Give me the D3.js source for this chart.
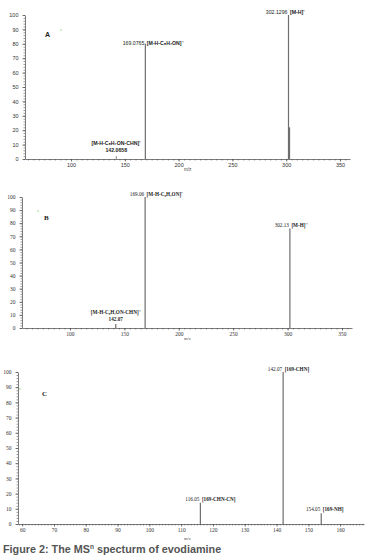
<!DOCTYPE html>
<html>
<head>
<meta charset="utf-8">
<script src="https://cdn.jsdelivr.net/npm/d3@7/dist/d3.min.js"></script>
<style>
  body { margin: 0; background: #fff; }
  svg { display: block; }
  .tick text { fill: #333; }
</style>
</head>
<body>
<div id="chart"></div>
<script>
// panel A: MS2 of [M-H]-
var mzA = [142.0658, 169.0765, 302.1296, 302.8]
var intA = [2, 80, 100, 22]
var numA = ['142.0658', '169.0765', '302.1296', '']
var ionA = ['[M-H-C₈H₇ON-CHN]⁻', '[M-H-C₈H₇ON]⁻', '[M-H]⁻', '']

// panel B: MS2 (second run)
var mzB = [142.07, 169.06, 302.13]
var intB = [3, 100, 76]
var numB = ['142.07', '169.06', '302.13']
var ionB = ['[M-H-C₈H₇ON-CHN]⁻', '[M-H-C₈H₇ON]⁻', '[M-H]⁻']

// panel C: MS3 of 169
var mzC = [116.05, 142.07, 154.05]
var intC = [14, 100, 7]
var numC = ['116.05', '142.07', '154.05']
var ionC = ['[169-CHN-CN]', '[169-CHN]', '[169-NH]']

var yTicks = [0, 10, 20, 30, 40, 50, 60, 70, 80, 90, 100]
var xTicksAB = [100, 150, 200, 250, 300, 350]
var xTicksC = [60, 70, 80, 90, 100, 110, 120, 130, 140, 150, 160]

var width = 371, height = 559

var svg = d3.select('#chart').append('svg')
	.attr('width', width)
	.attr('height', height)

function drawPanel(p) {
	var g = svg.append('g')
	var x = d3.scaleLinear().domain(p.xDomain).range(p.xRange)
	var y = d3.scaleLinear().domain([0, 100]).range(p.yRange)

	// minor ticks
	g.append('g')
		.attr('transform', 'translate(0,' + p.yRange[0] + ')')
		.call(d3.axisBottom(x).tickValues(d3.range(Math.ceil(p.xDomain[0] / p.minorX) * p.minorX, p.xDomain[1], p.minorX)).tickSize(1.5).tickFormat(''))
		.call(function(s) { s.select('.domain').remove() })
		.selectAll('line').attr('stroke', '#555').attr('stroke-width', 0.6)
	g.append('g')
		.attr('transform', 'translate(' + p.xRange[0] + ',0)')
		.call(d3.axisLeft(y).tickValues(d3.range(0, 101, 2)).tickSize(1.5).tickFormat(''))
		.call(function(s) { s.select('.domain').remove() })
		.selectAll('line').attr('stroke', '#555').attr('stroke-width', 0.6)

	var xa = g.append('g')
		.attr('transform', 'translate(0,' + p.yRange[0] + ')')
		.call(d3.axisBottom(x).tickValues(p.xTicks).tickSize(2.5).tickSizeOuter(0).tickPadding(2))
	xa.select('.domain').attr('stroke', '#444').attr('stroke-width', 0.7)
	xa.selectAll('.tick line').attr('stroke', '#444').attr('stroke-width', 0.7)
	xa.selectAll('text').attr('font-size', 5.5).attr('font-family', p.font).attr('fill', '#444')

	var ya = g.append('g')
		.attr('transform', 'translate(' + p.xRange[0] + ',0)')
		.call(d3.axisLeft(y).tickValues(yTicks).tickSize(2.5).tickSizeOuter(0).tickPadding(4))
	ya.select('.domain').attr('stroke', '#444').attr('stroke-width', 0.7)
	ya.selectAll('.tick line').attr('stroke', '#444').attr('stroke-width', 0.7)
	ya.selectAll('text').attr('font-size', 5.5).attr('font-family', p.font).attr('fill', '#444')

	g.append('text')
		.attr('x', p.mzPos[0]).attr('y', p.mzPos[1])
		.attr('font-size', 4.5).attr('font-family', p.font).attr('fill', '#444')
		.text('m/z')

	// peaks
	g.selectAll('.peak').data(p.mz).enter().append('line')
		.attr('x1', function(d) { return x(d) })
		.attr('x2', function(d) { return x(d) })
		.attr('y1', y(0))
		.attr('y2', function(d, i) { return y(p.ints[i]) })
		.attr('stroke', '#6e6e6e')
		.attr('stroke-width', function(d, i) { return p.widths ? p.widths[i] : 1.2 })

	// peak labels
	p.mz.forEach(function(d, i) {
		if (!p.nums[i] && !p.ions[i]) return
		var lp = p.labels[i]
		if (lp.stacked) {
			g.append('text')
				.attr('x', x(d) + lp.dx).attr('y', y(p.ints[i]) + lp.dy1)
				.attr('text-anchor', 'middle')
				.attr('font-size', 5.2).attr('font-weight', 'bold').attr('font-family', p.font).attr('fill', '#222')
				.text(p.ions[i])
			g.append('text')
				.attr('x', x(d) + lp.dx).attr('y', y(p.ints[i]) + lp.dy2)
				.attr('text-anchor', 'middle')
				.attr('font-size', 5.2).attr('font-weight', 'bold').attr('font-family', p.font).attr('fill', '#222')
				.text(p.nums[i])
		} else {
			g.append('text')
				.attr('x', x(d) - 1).attr('y', y(p.ints[i]) + lp.dy1)
				.attr('text-anchor', 'end')
				.attr('font-size', 5.2).attr('font-family', p.font).attr('fill', '#222')
				.text(p.nums[i])
			g.append('text')
				.attr('x', x(d) + 1.5).attr('y', y(p.ints[i]) + lp.dy1)
				.attr('font-size', 5.2).attr('font-weight', 'bold').attr('font-family', p.font).attr('fill', '#222')
				.text(p.ions[i])
		}
	})

	g.append('text')
		.attr('x', p.letter[0]).attr('y', p.letter[1])
		.attr('font-size', 7).attr('font-weight', 'bold').attr('font-family', p.font).attr('fill', '#222')
		.text(p.name)
	g.append('circle')
		.attr('cx', p.dot[0]).attr('cy', p.dot[1]).attr('r', 0.8)
		.attr('fill', '#9bd88a')
}

drawPanel({
	name: 'A', font: 'Liberation Sans, Arial, sans-serif',
	xDomain: [57.2, 359.3], xRange: [25, 350], yRange: [159, 15],
	xTicks: xTicksAB, minorX: 5,
	mz: mzA, ints: intA, nums: numA, ions: ionA, widths: [0.8, 1.2, 1.2, 1.8],
	labels: [{stacked: true, dx: 0, dy1: -11, dy2: -4}, {dy1: 1}, {dy1: -1}, {}],
	mzPos: [184, 171], letter: [45, 37], dot: [61, 30]
})

drawPanel({
	name: 'B', font: 'Liberation Serif, Times New Roman, serif',
	xDomain: [55.9, 359.2], xRange: [22, 352], yRange: [328, 197],
	xTicks: xTicksAB, minorX: 5,
	mz: mzB, ints: intB, nums: numB, ions: ionB,
	labels: [{stacked: true, dx: 0, dy1: -10, dy2: -3}, {dy1: -1}, {dy1: -1}],
	mzPos: [184, 340], letter: [44, 220], dot: [38, 211]
})

drawPanel({
	name: 'C', font: 'Liberation Serif, Times New Roman, serif',
	xDomain: [58.7, 167.5], xRange: [18, 364], yRange: [524, 372],
	xTicks: xTicksC, minorX: 1,
	mz: mzC, ints: intC, nums: numC, ions: ionC,
	labels: [{dy1: -2}, {dy1: -1}, {dy1: -2}],
	mzPos: [184, 540], letter: [42, 396], dot: [20, 389]
})

var cap = svg.append('text')
	.attr('x', 3).attr('y', 553)
	.attr('font-size', 10.8).attr('font-weight', 'bold')
	.attr('font-family', 'Liberation Sans, Arial, sans-serif')
	.attr('fill', '#555')
cap.append('tspan').text('Figure 2: The MS')
cap.append('tspan').attr('dy', -4).attr('font-size', 6.5).text('n')
cap.append('tspan').attr('dy', 4).text(' specturm of evodiamine')
</script>
</body>
</html>
